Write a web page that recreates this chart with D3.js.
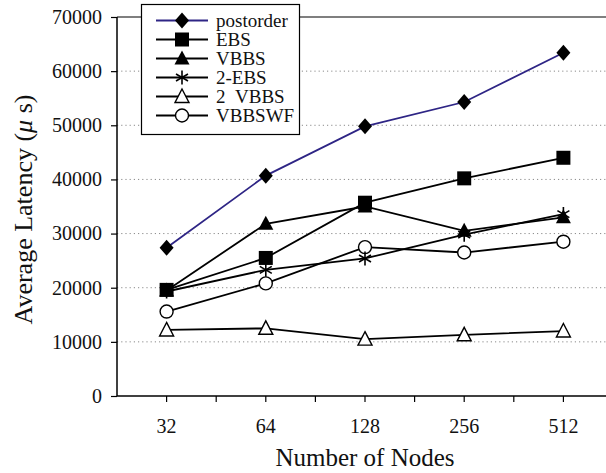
<!DOCTYPE html>
<html>
<head>
<meta charset="utf-8">
<script src="https://cdn.jsdelivr.net/npm/d3@7"></script>
<style>
  body { margin: 0; background: #fff; }
  svg { display: block; font-family: "Liberation Serif", "Times New Roman", serif; }
</style>
</head>
<body>
<div id="chart"></div>
<script>
const categories = ["32", "64", "128", "256", "512"];
const yTicks = [0, 10000, 20000, 30000, 40000, 50000, 60000, 70000];

const seriesNames = ["postorder", "EBS", "VBBS", "2-EBS", "2\u00A0\u00A0VBBS", "VBBSWF"];
const postorder = [27400, 40700, 49800, 54300, 63400];
const ebs = [19600, 25500, 35700, 40200, 44000];
const vbbs = [19500, 31800, 35000, 30500, 33000];
const twoEbs = [19300, 23300, 25400, 29800, 33600];
const twoVbbs = [12200, 12500, 10500, 11300, 12000];
const vbbswf = [15600, 20800, 27500, 26500, 28500];

document.addEventListener("DOMContentLoaded", function () {
  const W = 606, H = 473;
  const left = 117, right = 613, top = 17, bottom = 396;

  const svg = d3.select("#chart").append("svg")
    .attr("width", W).attr("height", H);

  const x = d3.scaleBand().domain(categories).range([left, right]).padding(0);
  const y = d3.scaleLinear().domain([0, 70000]).range([bottom, top]);
  const cx = (c) => x(c) + x.bandwidth() / 2;

  // dotted grid
  svg.append("g").selectAll("line")
    .data(yTicks.filter((t) => t > 0 && t < 70000))
    .enter().append("line")
    .attr("x1", left).attr("x2", W)
    .attr("y1", (d) => y(d)).attr("y2", (d) => y(d))
    .attr("stroke", "#8a8a8a").attr("stroke-width", 1)
    .attr("stroke-dasharray", "1.2,3");

  // top border
  svg.append("line")
    .attr("x1", left).attr("x2", W)
    .attr("y1", y(70000)).attr("y2", y(70000))
    .attr("stroke", "#555").attr("stroke-width", 1.5);

  // y axis
  const yAxis = svg.append("g")
    .attr("transform", `translate(${left},0)`)
    .call(d3.axisLeft(y).tickValues(yTicks).tickSize(6).tickPadding(9).tickFormat(d3.format("d")));
  yAxis.select(".domain").attr("stroke", "#000").attr("stroke-width", 1.5).attr("d", `M0,${top}V${bottom}`);
  yAxis.selectAll(".tick line").attr("stroke", "#000").attr("stroke-width", 1.2);
  yAxis.selectAll("text").style("font-size", "20px").attr("fill", "#111")
    .style("font-family", "Liberation Serif, serif");

  // x axis
  const xAxis = svg.append("g")
    .attr("transform", `translate(0,${bottom})`)
    .call(d3.axisBottom(x).tickSize(6).tickPadding(17));
  xAxis.select(".domain").attr("stroke", "#000").attr("stroke-width", 1.5).attr("d", `M${left},0H${W}`);
  xAxis.selectAll(".tick line").attr("stroke", "#000").attr("stroke-width", 1.2);
  xAxis.selectAll("text").style("font-size", "20px").attr("fill", "#111")
    .style("font-family", "Liberation Serif, serif");

  // boundary ticks between categories
  svg.append("g").selectAll("line")
    .data(categories.slice(1))
    .enter().append("line")
    .attr("x1", (d) => x(d)).attr("x2", (d) => x(d))
    .attr("y1", bottom).attr("y2", bottom + 6)
    .attr("stroke", "#000").attr("stroke-width", 1.2);

  // axis titles
  svg.append("text")
    .attr("x", (left + right) / 2).attr("y", 466)
    .attr("text-anchor", "middle")
    .style("font-size", "25px").attr("fill", "#111")
    .text("Number of Nodes");

  svg.append("text")
    .attr("transform", `translate(32,${(top + bottom) / 2 + 3}) rotate(-90)`)
    .attr("text-anchor", "middle")
    .style("font-size", "26px").attr("fill", "#111")
    .html("Average Latency (<tspan font-style='italic'>\u03BC</tspan> s)");

  // markers
  const markers = {
    diamond: (g) => g.append("path").attr("d", "M0,-8L7,0L0,8L-7,0Z").attr("fill", "#000"),
    square: (g) => g.append("rect").attr("x", -7).attr("y", -7).attr("width", 14).attr("height", 14).attr("fill", "#000"),
    triangle: (g) => g.append("path").attr("d", "M0,-8L7.5,6L-7.5,6Z").attr("fill", "#000"),
    star: (g) => g.append("path").attr("d", "M0,-7V7M-6,-3.5L6,3.5M-6,3.5L6,-3.5")
      .attr("stroke", "#000").attr("stroke-width", 1.6).attr("fill", "none"),
    openTriangle: (g) => g.append("path").attr("d", "M0,-7.5L7,6L-7,6Z")
      .attr("fill", "#fff").attr("stroke", "#000").attr("stroke-width", 1.4),
    circle: (g) => g.append("circle").attr("r", 6.5)
      .attr("fill", "#fff").attr("stroke", "#000").attr("stroke-width", 1.4),
  };

  const series = [
    { name: seriesNames[0], values: postorder, color: "#2e2585", marker: "diamond" },
    { name: seriesNames[1], values: ebs, color: "#000", marker: "square" },
    { name: seriesNames[2], values: vbbs, color: "#000", marker: "triangle" },
    { name: seriesNames[3], values: twoEbs, color: "#000", marker: "star" },
    { name: seriesNames[4], values: twoVbbs, color: "#000", marker: "openTriangle" },
    { name: seriesNames[5], values: vbbswf, color: "#000", marker: "circle" },
  ];

  const line = d3.line().x((d) => cx(d.c)).y((d) => y(d.v));

  series.slice().reverse().forEach(function (s) {
    const pts = s.values.map((v, i) => ({ c: categories[i], v: v }));
    svg.append("path").datum(pts)
      .attr("d", line)
      .attr("fill", "none")
      .attr("stroke", s.color)
      .attr("stroke-width", 1.8);
    pts.forEach(function (p) {
      const g = svg.append("g").attr("transform", `translate(${cx(p.c)},${y(p.v)})`);
      markers[s.marker](g);
    });
  });

  // legend
  const legend = svg.append("g");
  legend.append("rect")
    .attr("x", 141.5).attr("y", 4.5).attr("width", 158).attr("height", 130)
    .attr("fill", "#fff").attr("stroke", "#000").attr("stroke-width", 1.2);
  series.forEach(function (s, i) {
    const ly = 20.5 + i * 19;
    legend.append("line")
      .attr("x1", 156).attr("x2", 208).attr("y1", ly).attr("y2", ly)
      .attr("stroke", s.color).attr("stroke-width", 1.8);
    const g = legend.append("g").attr("transform", `translate(182,${ly})`);
    markers[s.marker](g);
    legend.append("text")
      .attr("x", 216).attr("y", ly + 6)
      .style("font-size", "19px").attr("fill", "#111")
      .text(s.name);
  });
});
</script>
</body>
</html>
